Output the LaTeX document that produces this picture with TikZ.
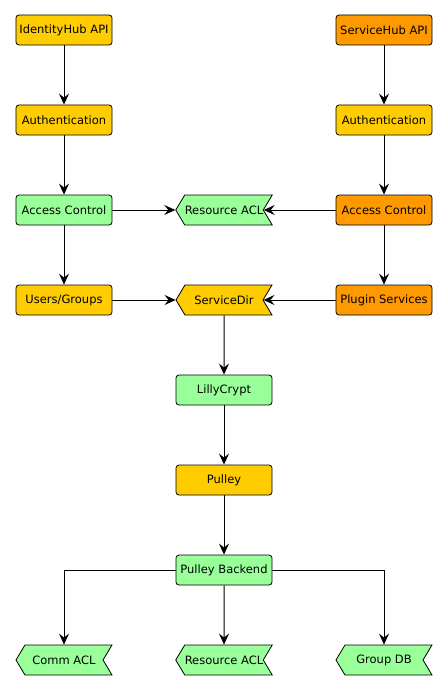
\documentclass[tikz,border=0pt]{standalone}
\usepackage{fontspec}
\setmainfont{DejaVu Sans}
\usetikzlibrary{arrows.meta,shapes.symbols}
\definecolor{cyellow}{HTML}{FFCC00}
\definecolor{corange}{HTML}{FF9900}
\definecolor{cgreen}{HTML}{99FF99}
\tikzset{
  box/.style={rectangle, rounded corners=3bp, draw=black, line width=0.8bp,
    minimum width=96bp, minimum height=30bp, inner sep=0pt,
    font=\fontsize{11.5bp}{13bp}\selectfont},
  flag/.style={signal, signal to=west, signal from=east, signal pointer angle=118,
    draw=black, line width=0.8bp, minimum width=96bp, minimum height=30bp, inner sep=0pt,
    font=\fontsize{11.5bp}{13bp}\selectfont},
  conn/.style={draw=black, line width=1bp, -{Stealth[length=11bp,width=10bp,inset=4bp]}},
}
\begin{document}
\begin{tikzpicture}[x=1bp,y=-1bp]
\useasboundingbox (0,0) rectangle (448,690);
% left column
\node[box, fill=cyellow] (ihapi) at (64,30) {IdentityHub API};
\node[box, fill=cyellow] (lauth) at (64,120) {Authentication};
\node[box, fill=cgreen] (lac) at (64,210) {Access Control};
\node[box, fill=cyellow] (ug) at (64,300) {Users/Groups};
% right column
\node[box, fill=corange] (shapi) at (384,30) {ServiceHub API};
\node[box, fill=cyellow] (rauth) at (384,120) {Authentication};
\node[box, fill=corange] (rac) at (384,210) {Access Control};
\node[box, fill=corange] (ps) at (384,300) {Plugin Services};
% middle
\node[flag, fill=cgreen] (racl) at (224,210) {Resource ACL};
\node[flag, fill=cyellow] (sdir) at (224,300) {ServiceDir};
\node[box, fill=cgreen] (lc) at (224,390) {LillyCrypt};
\node[box, fill=cyellow] (pulley) at (224,480) {Pulley};
\node[box, fill=cgreen] (pb) at (224,570) {Pulley Backend};
% bottom
\node[flag, fill=cgreen] (cacl) at (64,660) {Comm ACL};
\node[flag, fill=cgreen] (racl2) at (224,660) {Resource ACL};
\node[flag, fill=cgreen] (gdb) at (384,660) {Group DB};
% connectors
\draw[conn] (ihapi) -- (lauth);
\draw[conn] (lauth) -- (lac);
\draw[conn] (lac) -- (ug);
\draw[conn] (shapi) -- (rauth);
\draw[conn] (rauth) -- (rac);
\draw[conn] (rac) -- (ps);
\draw[conn] (lac.east) -- (racl.west);
\draw[conn] (rac.west) -- (racl.east);
\draw[conn] (ug.east) -- (sdir.west);
\draw[conn] (ps.west) -- (sdir.east);
\draw[conn] (sdir) -- (lc);
\draw[conn] (lc) -- (pulley);
\draw[conn] (pulley) -- (pb);
\draw[conn] (pb.west) -| (cacl.north);
\draw[conn] (pb) -- (racl2);
\draw[conn] (pb.east) -| (gdb.north);
\end{tikzpicture}
\end{document}
